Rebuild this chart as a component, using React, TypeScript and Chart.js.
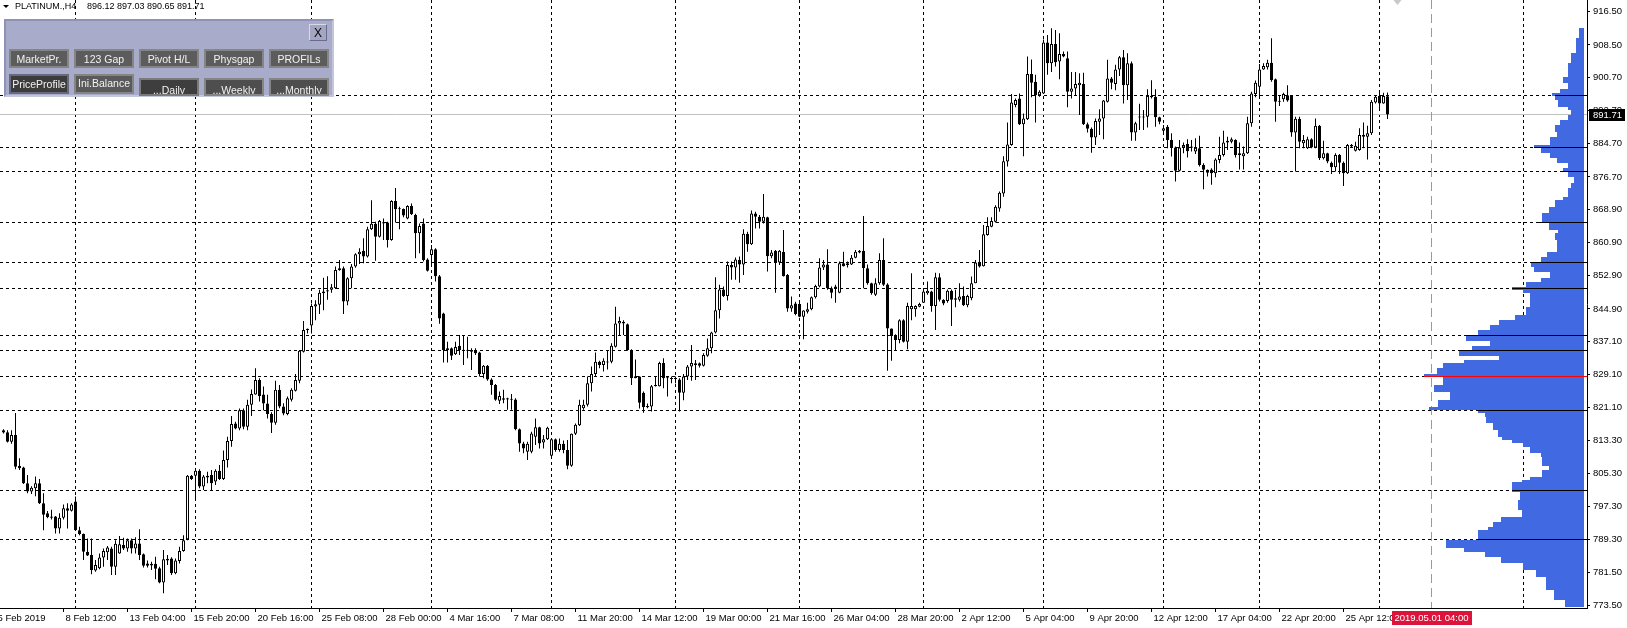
import React, { useEffect, useRef } from 'react';
import { Chart, registerables } from 'chart.js';

Chart.register(...registerables);

// ---------------- DATA ----------------
const opens = [
815.7,815.2,812.9,814.5,807.1,806.7,802.9,800.9,801.7,802.9,
798.1,795.7,794.9,794.9,792.0,794.6,796.9,796.3,798.5,791.6,
790.7,786.4,785.6,781.9,782.4,785.0,786.3,787.2,782.8,786.0,
788.0,787.2,789.2,787.2,788.4,785.8,783.6,783.5,783.5,782.4,
779.0,784.7,784.8,781.2,784.2,786.6,789.4,804.7,804.7,805.9,
802.1,804.7,804.9,803.3,805.9,803.9,808.5,813.1,817.3,816.1,
820.5,816.5,821.8,824.3,827.8,824.3,822.1,819.6,817.5,825.4,
821.4,819.6,823.0,825.2,827.6,834.6,839.8,840.9,845.5,845.9,
848.7,849.1,849.5,849.9,854.3,854.7,846.7,852.3,855.1,858.1,
858.9,857.5,864.1,865.4,862.3,865.8,865.7,861.5,870.9,869.1,
869.0,866.7,869.7,867.5,863.1,865.5,856.8,857.9,859.3,852.8,
843.8,835.0,835.4,834.0,836.0,835.0,834.8,835.0,835.0,834.4,
829.2,831.2,827.9,826.6,822.8,823.0,823.4,823.2,823.1,815.9,
812.5,810.5,810.5,814.1,816.4,812.7,813.5,809.5,813.5,810.9,
812.4,810.9,807.1,814.8,816.9,821.0,821.8,827.0,829.2,832.2,
831.4,832.2,832.2,835.8,841.4,841.4,841.2,835.0,828.2,828.6,
824.7,821.2,821.4,826.3,826.3,831.9,828.2,828.0,828.0,827.9,
824.7,828.6,831.0,831.8,831.8,831.2,833.6,835.4,839.2,844.6,
849.6,848.0,855.5,854.9,856.7,855.6,863.0,860.5,867.9,867.1,
865.9,867.0,857.6,858.9,856.1,858.6,853.1,845.0,846.2,846.1,
843.0,844.2,844.8,847.7,850.3,854.9,855.6,849.9,849.9,848.8,
855.9,855.5,855.6,857.2,858.9,858.9,854.7,851.1,848.3,851.1,
856.7,850.8,840.2,838.6,837.4,842.2,837.0,844.8,844.8,845.4,
846.4,848.7,849.1,845.6,852.5,847.1,846.8,849.3,847.1,847.1,
848.0,845.8,847.5,851.1,856.1,855.2,862.7,864.7,865.9,869.1,
872.7,880.4,884.4,894.0,895.6,889.4,890.6,901.5,899.6,896.4,
896.8,909.1,904.1,908.7,904.5,906.3,905.3,897.2,898.0,898.8,
899.1,889.4,888.3,886.2,890.0,890.8,894.8,900.4,899.1,902.6,
905.5,898.8,904.1,887.4,891.0,891.0,891.2,895.9,896.0,891.1,
887.8,888.8,885.6,883.8,878.2,883.8,884.6,884.0,882.8,883.6,
879.6,878.4,878.5,877.6,880.8,882.0,885.4,885.2,885.6,882.4,
881.7,882.4,889.6,896.7,898.4,902.6,903.1,904.2,900.2,895.0,
895.4,896.4,896.2,887.4,890.7,884.8,883.6,885.8,883.8,889.0,
881.2,882.4,880.1,879.0,882.0,880.1,877.6,884.4,883.0,883.2,
886.4,886.4,887.2,894.6,896.2,894.4,896.12
];

const highs = [
815.9,815.7,815.7,819.8,808.9,806.9,804.9,802.2,804.5,803.9,
800.5,796.2,796.5,795.0,795.7,797.8,798.1,798.1,799.7,792.4,
790.8,789.6,789.6,784.4,786.0,787.2,787.8,787.6,789.2,790.2,
789.8,789.6,789.6,789.9,791.8,786.0,784.3,784.0,785.2,782.8,
786.8,785.6,785.1,784.8,787.6,790.4,804.9,804.9,806.3,806.3,
804.9,805.7,806.1,806.3,807.3,810.8,814.1,819.1,817.7,820.9,
820.9,823.0,825.5,830.6,828.2,826.2,824.2,820.0,827.6,826.6,
822.2,823.8,825.8,829.2,835.0,842.0,840.2,846.2,847.0,849.5,
852.4,852.8,850.9,855.1,856.7,855.1,852.5,855.7,858.3,859.5,
861.9,864.7,871.1,865.9,866.3,866.7,865.9,871.1,874.0,869.5,
869.1,869.9,870.3,867.8,865.5,866.7,857.1,860.3,859.5,853.1,
844.0,837.0,835.6,837.0,838.6,838.6,838.2,835.4,835.4,834.6,
831.4,831.4,828.2,826.8,825.0,825.4,823.5,824.4,823.4,816.1,
812.9,812.9,815.3,818.5,816.5,814.5,816.5,813.7,813.7,813.7,
813.2,813.3,814.9,817.3,823.0,823.0,828.6,831.0,834.4,832.4,
833.0,835.0,836.6,845.4,843.0,842.2,841.4,835.2,832.7,828.7,
825.0,822.1,826.6,828.6,832.2,833.0,828.6,828.6,828.6,828.2,
829.2,831.4,836.2,832.6,832.0,834.2,837.8,839.4,852.5,850.7,
850.3,856.3,856.3,857.3,857.5,864.1,863.5,868.6,868.3,867.5,
872.6,867.1,859.1,859.1,859.1,863.9,853.3,847.9,846.6,846.4,
844.6,846.4,847.9,850.7,857.1,856.7,859.3,850.3,850.7,856.3,
858.7,856.3,857.9,859.1,859.1,867.3,855.6,851.2,852.3,858.3,
861.9,851.1,840.2,838.8,842.4,842.4,846.4,853.5,845.8,846.4,
849.9,851.5,849.3,853.6,853.5,847.2,849.6,849.6,849.5,851.1,
850.3,848.3,852.7,856.7,859.1,865.1,867.0,867.0,869.9,873.2,
881.7,889.8,896.7,895.6,896.8,892.0,905.7,905.0,901.3,897.6,
909.8,910.9,912.5,912.1,911.3,906.9,906.9,902.0,902.0,901.7,
901.8,889.8,888.6,890.8,893.0,895.2,904.9,900.8,903.7,905.8,
907.3,906.5,904.5,890.0,894.3,892.8,897.8,900.0,897.8,891.2,
889.2,889.2,887.2,884.0,885.6,885.0,885.8,885.6,886.0,886.6,
880.0,878.5,878.8,881.2,886.4,887.8,886.4,886.2,885.8,885.0,
884.0,891.2,897.2,899.9,903.9,904.1,904.9,910.1,900.4,896.2,
897.0,898.8,896.4,891.2,891.2,886.8,886.4,886.0,890.8,889.2,
885.4,882.5,880.4,882.4,882.2,880.4,884.6,884.6,885.2,888.4,
889.8,889.0,895.2,896.4,897.2,897.0,897.03
];

const lows = [
814.9,812.7,812.4,806.3,806.1,802.7,800.5,800.3,799.8,797.9,
791.6,794.5,794.2,790.8,790.8,794.2,792.0,796.1,791.6,790.4,
784.4,785.4,781.0,781.6,782.2,782.8,784.4,780.8,780.8,785.9,
786.8,786.4,786.0,786.0,784.4,782.6,782.6,782.0,779.8,778.8,
776.4,783.2,780.8,781.0,783.6,786.4,789.2,803.7,798.9,801.7,
801.3,802.9,801.3,802.5,803.7,803.7,806.7,811.7,815.9,815.7,
815.9,815.7,819.1,824.2,822.6,820.5,818.5,815.0,817.0,821.0,
819.3,819.3,822.6,825.0,827.0,834.4,839.0,839.0,842.2,843.7,
844.6,847.1,848.8,849.7,854.1,843.7,845.8,849.9,854.8,855.7,
855.9,857.3,863.9,856.5,862.1,861.5,859.7,861.3,865.7,864.1,
867.0,866.5,867.5,857.1,858.3,856.3,853.9,855.5,851.5,841.3,
832.0,832.0,832.6,833.8,833.8,831.4,833.0,830.2,833.8,828.6,
828.2,827.6,824.2,822.8,822.0,822.2,820.6,820.6,815.7,810.5,
810.1,808.5,810.1,812.1,811.3,811.3,813.3,809.3,810.5,810.5,
810.1,806.3,806.9,814.5,816.7,820.6,821.4,825.0,828.6,830.6,
829.8,830.3,831.8,835.6,838.6,838.6,834.8,826.6,828.2,820.9,
819.9,821.0,820.2,826.2,826.2,825.8,823.8,827.0,827.0,820.2,
822.9,827.8,827.6,827.8,830.8,831.0,833.4,834.2,839.0,842.6,
847.8,846.9,851.9,851.9,851.2,853.1,858.7,860.3,864.3,864.3,
865.5,853.9,857.1,848.8,855.5,852.7,844.2,844.2,843.4,842.9,
837.6,843.8,844.6,847.4,850.1,854.3,849.5,847.5,846.4,848.7,
855.1,854.9,855.5,857.1,858.3,849.9,850.7,848.3,848.0,850.7,
850.4,830.0,832.4,835.0,836.6,836.8,835.2,842.2,843.0,845.3,
846.3,848.3,844.2,839.8,846.7,845.8,846.4,840.8,845.3,846.7,
845.6,845.3,847.0,851.1,854.9,855.1,862.5,864.6,865.7,868.3,
871.9,879.2,884.2,893.5,889.2,881.7,890.4,895.9,889.8,896.0,
896.7,901.3,902.0,903.3,900.2,905.5,893.5,895.6,896.4,891.6,
889.2,887.4,882.5,884.4,886.8,885.8,894.6,897.8,897.6,901.0,
894.4,895.2,885.4,885.4,888.0,888.0,888.6,895.6,888.8,889.4,
886.8,883.6,881.6,875.6,878.0,882.4,881.4,882.8,882.2,879.2,
873.7,876.8,874.8,876.6,880.0,881.6,883.2,884.8,881.4,878.5,
878.5,882.2,888.8,895.9,895.9,902.5,902.6,899.6,890.0,893.8,
894.8,894.8,886.4,878.0,883.6,883.6,883.4,883.6,883.6,880.8,
880.9,880.0,877.4,878.0,877.4,874.5,877.4,883.8,882.8,883.0,
883.6,880.9,886.8,894.4,893.2,894.3,890.65
];

const closes = [
815.1,812.9,814.5,806.9,806.5,802.9,800.9,801.8,802.9,798.1,
795.3,794.7,794.6,792.0,794.6,796.9,796.3,797.8,791.6,790.7,
786.4,785.5,782.0,783.2,785.0,786.6,787.4,782.8,788.3,788.2,
787.2,789.2,787.2,788.4,785.6,783.0,783.0,783.1,782.3,779.0,
784.6,784.3,781.2,784.3,786.6,789.2,804.7,803.9,805.9,802.1,
804.5,804.3,802.9,805.9,803.9,808.5,813.1,817.2,816.1,820.5,
816.5,821.8,824.4,827.8,823.9,822.1,819.6,817.5,825.4,821.4,
819.7,823.4,825.4,827.8,834.8,839.8,840.1,845.6,846.0,848.8,
849.1,849.4,850.1,854.3,854.7,846.7,852.3,855.1,858.1,858.7,
857.5,864.1,865.4,862.3,866.1,865.5,861.5,870.9,868.9,868.9,
867.4,869.7,867.7,863.1,864.9,856.7,854.1,859.3,852.8,842.6,
835.0,835.4,833.6,835.7,835.0,834.8,835.0,834.6,834.2,829.2,
831.2,827.9,826.6,823.0,823.9,823.4,823.1,823.0,815.9,812.5,
811.3,812.4,814.9,816.4,812.5,813.5,816.3,813.5,810.9,812.4,
810.9,807.1,814.8,817.0,821.8,821.8,827.0,829.2,832.2,831.4,
832.4,832.0,836.0,841.4,842.0,841.8,835.0,828.2,828.7,822.3,
821.2,821.5,826.3,826.6,831.9,828.2,828.4,828.2,828.2,824.7,
828.6,831.0,831.9,831.4,831.2,833.8,835.4,839.2,844.6,849.6,
848.0,855.5,854.9,856.8,855.6,863.0,860.5,867.9,867.1,865.9,
867.1,857.6,858.5,856.1,858.9,852.8,845.0,845.8,843.7,843.0,
844.5,844.8,847.7,850.4,854.9,855.6,849.9,848.8,850.3,855.9,
855.2,855.9,857.2,858.7,858.5,854.7,851.1,848.7,851.1,856.7,
850.7,840.2,838.4,837.4,842.2,837.0,845.6,845.6,845.6,846.1,
849.1,849.3,845.6,852.5,847.1,846.2,849.3,847.1,847.5,847.9,
845.8,848.0,851.1,856.1,855.1,862.9,864.9,866.1,869.5,872.9,
880.5,884.5,894.6,895.2,889.4,890.8,901.5,899.4,896.4,897.2,
909.1,904.1,908.7,904.3,906.3,905.7,897.2,898.0,899.1,899.4,
889.4,888.3,886.2,890.2,890.8,895.1,900.4,899.4,902.6,905.5,
898.8,904.1,887.4,889.6,891.2,891.2,896.2,896.2,891.1,890.0,
888.4,885.6,883.8,878.2,883.8,884.4,882.9,883.7,883.7,879.6,
878.4,877.7,877.6,880.9,882.0,885.0,885.0,885.8,882.0,882.0,
882.4,889.6,896.8,899.4,902.6,903.4,904.2,900.0,894.8,894.8,
896.7,895.1,887.4,890.7,885.2,885.6,885.8,883.8,889.0,881.2,
882.4,880.4,879.0,882.0,880.1,877.6,884.4,884.0,884.2,886.8,
886.8,887.2,894.8,896.0,894.4,896.2,891.71
];

const timeLabels = [
  '5 Feb 2019', '8 Feb 12:00', '13 Feb 04:00', '15 Feb 20:00', '20 Feb 16:00', '25 Feb 08:00',
  '28 Feb 00:00', '4 Mar 16:00', '7 Mar 08:00', '11 Mar 20:00', '14 Mar 12:00', '19 Mar 00:00',
  '21 Mar 16:00', '26 Mar 04:00', '28 Mar 20:00', '2 Apr 12:00', '5 Apr 04:00', '9 Apr 20:00',
  '12 Apr 12:00', '17 Apr 04:00', '22 Apr 20:00', '25 Apr 12:00'
];
const timeLabelBars = [-2, 15, 31, 47, 63, 79, 95, 111, 127, 143, 159, 175, 191, 207, 223, 239, 255, 271, 287, 303, 319, 335];
const weekGridBars = [18, 48, 77, 107, 137, 168, 199, 230, 260, 290, 314, 344, 380];

const priceTicks = [916.5, 908.5, 900.7, 892.7, 884.7, 876.7, 868.9, 860.9, 852.9, 844.9, 837.1, 829.1, 821.1, 813.3, 805.3, 797.3, 789.3, 781.5, 773.5];

const levelPrices = [896.3, 883.85, 878.05, 865.77, 856.13, 849.77, 838.6, 834.9, 820.5, 801.2, 789.4];
const pocPrice = 828.7;
const bidPrice = 891.71;
const headerSymbol = 'PLATINUM.,H4';
const headerOHLC = [896.12, 897.03, 890.65, 891.71];
const markerBar = 357;
const markerLabel = '2019.05.01 04:00';
const shiftBar = 348.5;

const profileTop = [912.65, 910.1, 906.5, 904.1, 900.8, 899.25, 897.8, 896.85, 896.3, 895.2, 893.6, 892.8, 891.6, 890.4, 889.2, 887.6, 886.4, 884.4, 883.6, 882.4, 881.2, 880.0, 878.8, 878.0, 876.75, 875.15, 873.95, 871.9, 871.1, 869.5, 867.9, 865.9, 865.5, 863.9, 863.1, 861.5, 858.7, 857.5, 856.3, 855.1, 853.9, 852.3, 851.5, 850.25, 849.5, 848.7, 847.0, 845.4, 843.4, 842.2, 841.0, 839.8, 838.6, 837.2, 836.0, 835.0, 833.6, 832.6, 831.9, 830.7, 829.2, 828.5, 826.6, 824.9, 822.95, 821.3, 820.55, 819.8, 818.85, 817.4, 815.7, 814.0, 813.3, 812.6, 811.6, 810.2, 809.2, 807.05, 806.1, 804.4, 803.7, 803.2, 800.8, 798.9, 796.5, 794.8, 793.6, 792.4, 791.65, 789.2, 787.3, 786.3, 785.1, 783.7, 782.0, 780.3, 777.2, 774.8];
const profileVolume = [3, 5, 8, 10, 13, 10, 15, 20, 18, 16, 10, 8, 10, 15, 18, 17, 21, 31, 27, 21, 17, 10, 13, 10, 6, 8, 10, 13, 18, 22, 26, 28, 22, 16, 18, 17, 23, 27, 33, 31, 21, 27, 36, 45, 38, 34, 34, 36, 43, 53, 59, 66, 74, 59, 70, 78, 53, 75, 88, 92, 100, 88, 94, 84, 91, 97, 66, 62, 61, 57, 54, 51, 45, 38, 34, 27, 26, 22, 26, 34, 39, 45, 40, 41, 39, 52, 57, 60, 66, 86, 75, 62, 52, 38, 30, 24, 19, 12];
const profileBottom = 773.1;

// ---------------- CHART ----------------
const FONT = '"Liberation Sans", Arial, sans-serif';

function profileVolAt(price: number): number {
  for (let k = 0; k < profileTop.length; k++) {
    const bottom = k + 1 < profileTop.length ? profileTop[k + 1] : profileBottom;
    if (price <= profileTop[k] && price > bottom) return profileVolume[k];
  }
  return 0;
}

const mt4Plugin = {
  id: 'mt4',
  beforeDatasetsDraw(chart: any) {
    const { ctx, chartArea: a } = chart;
    const xs = chart.scales.x;
    const ys = chart.scales.y;
    ctx.save();
    ctx.beginPath();
    ctx.rect(a.left, a.top, a.right - a.left, a.bottom - a.top);
    ctx.clip();
    ctx.lineWidth = 1;
    ctx.strokeStyle = '#000';
    ctx.setLineDash([3, 3]);
    weekGridBars.forEach((b) => {
      const px = Math.floor(xs.getPixelForValue(b)) + 0.5;
      ctx.beginPath();
      ctx.moveTo(px, a.top);
      ctx.lineTo(px, a.bottom);
      ctx.stroke();
    });
    [...levelPrices, pocPrice].forEach((p) => {
      const py = Math.floor(ys.getPixelForValue(p)) + 0.5;
      ctx.beginPath();
      ctx.moveTo(a.left, py);
      ctx.lineTo(a.right, py);
      ctx.stroke();
    });
    ctx.setLineDash([]);
    ctx.strokeStyle = '#C0C0C0';
    const by = Math.floor(ys.getPixelForValue(bidPrice)) + 0.5;
    ctx.beginPath();
    ctx.moveTo(a.left, by);
    ctx.lineTo(a.right, by);
    ctx.stroke();
    ctx.strokeStyle = '#9A9A9A';
    ctx.setLineDash([9, 5]);
    const mx = Math.floor(xs.getPixelForValue(markerBar)) + 0.5;
    ctx.beginPath();
    ctx.moveTo(mx, a.top);
    ctx.lineTo(mx, a.bottom);
    ctx.stroke();
    // chart shift marker
    const sx = xs.getPixelForValue(shiftBar);
    ctx.fillStyle = '#C8C8C8';
    ctx.beginPath();
    ctx.moveTo(sx - 4, a.top);
    ctx.lineTo(sx + 4, a.top);
    ctx.lineTo(sx, a.top + 5);
    ctx.closePath();
    ctx.fill();
    ctx.restore();
  },
  afterDatasetsDraw(chart: any) {
    const { ctx, chartArea: a } = chart;
    const ys = chart.scales.y;
    const xv = chart.scales.xv;
    ctx.save();
    ctx.beginPath();
    ctx.rect(a.left, a.top, a.right - a.left, a.bottom - a.top);
    ctx.clip();
    ctx.fillStyle = '#4169E1';
    const xR = Math.round(xv.getPixelForValue(0));
    for (let k = 0; k < profileTop.length; k++) {
      const bottom = k + 1 < profileTop.length ? profileTop[k + 1] : profileBottom;
      const y1 = Math.round(ys.getPixelForValue(profileTop[k]));
      const y2 = Math.round(ys.getPixelForValue(bottom));
      const xL = Math.round(xv.getPixelForValue(profileVolume[k]));
      ctx.fillRect(xL, y1, xR - xL, y2 - y1);
    }
    ctx.lineWidth = 1;
    ctx.setLineDash([]);
    levelPrices.forEach((p) => {
      const py = Math.floor(ys.getPixelForValue(p)) + 0.5;
      const xL = Math.round(xv.getPixelForValue(profileVolAt(p)));
      ctx.strokeStyle = '#000';
      ctx.beginPath();
      ctx.moveTo(xL, py);
      ctx.lineTo(a.right, py);
      ctx.stroke();
    });
    const pp = Math.floor(ys.getPixelForValue(pocPrice)) + 0.5;
    const pl = Math.round(xv.getPixelForValue(profileVolAt(pocPrice)));
    ctx.strokeStyle = '#FF0000';
    ctx.beginPath();
    ctx.moveTo(pl, pp);
    ctx.lineTo(a.right, pp);
    ctx.stroke();
    ctx.restore();
  },
  afterDraw(chart: any) {
    const { ctx, chartArea: a } = chart;
    const xs = chart.scales.x;
    const ys = chart.scales.y;
    ctx.save();
    ctx.font = `9.5px ${FONT}`;
    ctx.textBaseline = 'middle';
    const by = ys.getPixelForValue(bidPrice);
    ctx.fillStyle = '#000';
    ctx.fillRect(a.right + 2, Math.round(by) - 6, 36, 12);
    ctx.fillStyle = '#fff';
    ctx.textAlign = 'left';
    ctx.fillText(bidPrice.toFixed(2), a.right + 6, Math.round(by));
    const mx = xs.getPixelForValue(markerBar);
    const tw = ctx.measureText(markerLabel).width + 6;
    ctx.fillStyle = '#DC143C';
    ctx.fillRect(Math.round(mx - tw / 2), a.bottom + 3, Math.round(tw), 14);
    ctx.fillStyle = '#fff';
    ctx.textAlign = 'center';
    ctx.fillText(markerLabel, mx, a.bottom + 10.5);
    ctx.restore();
  }
};

export default function App() {
  const ref = useRef<HTMLCanvasElement>(null);

  useEffect(() => {
    document.body.style.margin = '0';
    const canvas = ref.current;
    if (!canvas) return;
    const bodyData = opens.map((o, i) => ({ x: i, y: [o, closes[i]] }));
    const wickData = lows.map((l, i) => ({ x: i, y: [l, highs[i]] }));
    const bodyColors = opens.map((o, i) => (closes[i] >= o ? '#FFFFFF' : '#000000'));

    const chart = new Chart(canvas, {
      type: 'bar',
      data: {
        datasets: [
          {
            label: 'body',
            data: bodyData as any,
            backgroundColor: bodyColors,
            borderColor: '#000',
            borderWidth: 1,
            borderSkipped: false,
            barThickness: 3,
            grouped: false,
            minBarLength: 1,
            inflateAmount: 0,
            order: 0
          } as any,
          {
            label: 'wick',
            data: wickData as any,
            backgroundColor: '#000',
            borderWidth: 0,
            barThickness: 1,
            grouped: false,
            inflateAmount: 0,
            order: 1
          } as any
        ]
      },
      options: {
        responsive: false,
        maintainAspectRatio: false,
        devicePixelRatio: 1,
        animation: false,
        events: [],
        layout: { padding: 0 },
        plugins: { legend: { display: false }, tooltip: { enabled: false } },
        scales: {
          x: {
            type: 'linear',
            position: 'bottom',
            min: -0.875,
            max: 395.875,
            offset: false,
            grid: { display: true, offset: false, drawOnChartArea: false, drawTicks: true, tickLength: 4, color: '#000' },
            border: { display: true, color: '#000', width: 1 },
            ticks: {
              autoSkip: false,
              maxRotation: 0,
              minRotation: 0,
              align: 'start',
              labelOffset: 2,
              padding: 1,
              color: '#000',
              font: { family: FONT, size: 9.5 },
              callback: (_v: any, i: number) => timeLabels[i] ?? ''
            },
            afterBuildTicks: (s: any) => {
              s.ticks = timeLabelBars.map((v) => ({ value: v }));
            },
            afterFit: (s: any) => {
              s.height = 20;
              s.paddingLeft = 0;
              s.paddingRight = 0;
            }
          } as any,
          xv: {
            type: 'linear',
            axis: 'x',
            position: 'top',
            display: true,
            reverse: true,
            offset: false,
            min: -1.9,
            max: 990,
            grid: { display: false, drawTicks: false, drawOnChartArea: false },
            border: { display: false },
            ticks: { display: false },
            afterFit: (s: any) => {
              s.height = 0;
              s.paddingLeft = 0;
              s.paddingRight = 0;
            }
          } as any,
          y: {
            type: 'linear',
            position: 'right',
            min: 772.85,
            max: 919.32,
            beginAtZero: false,
            grid: { display: true, drawOnChartArea: false, drawTicks: true, tickLength: 3, color: '#000' },
            border: { display: true, color: '#000', width: 1 },
            ticks: {
              padding: 3,
              color: '#000',
              font: { family: FONT, size: 9.5 },
              callback: (v: any) => Number(v).toFixed(2)
            },
            afterBuildTicks: (s: any) => {
              s.ticks = priceTicks.map((v) => ({ value: v }));
            },
            afterFit: (s: any) => {
              s.width = 40;
              s.paddingTop = 0;
              s.paddingBottom = 0;
            }
          } as any
        }
      },
      plugins: [mt4Plugin]
    });
    return () => chart.destroy();
  }, []);

  const btnBase: React.CSSProperties = {
    position: 'absolute',
    boxSizing: 'border-box',
    color: '#F2F2F2',
    font: `10.5px ${FONT}`,
    display: 'flex',
    justifyContent: 'center',
    alignItems: 'center',
    overflow: 'hidden',
    whiteSpace: 'nowrap'
  };
  const row1 = ['MarketPr.', '123 Gap', 'Pivot H/L', 'Physgap', 'PROFILs'];
  const row2 = ['...Daily', '...Weekly', '...Monthly'];

  return (
    <div style={{ position: 'relative', width: 1627, height: 628, overflow: 'hidden', background: '#fff' }}>
      <canvas ref={ref} width={1627} height={628} style={{ position: 'absolute', left: 0, top: 0, width: 1627, height: 628 }} />
      <div style={{ position: 'absolute', left: 3, top: 5, width: 0, height: 0, borderLeft: '3px solid transparent', borderRight: '3px solid transparent', borderTop: '3px solid #000' }} />
      <div style={{ position: 'absolute', left: 15, top: 1, font: `9px ${FONT}`, lineHeight: '11px', color: '#000', whiteSpace: 'pre' }}>{headerSymbol}</div>
      <div style={{ position: 'absolute', left: 87, top: 1, font: `9px ${FONT}`, lineHeight: '11px', color: '#000', whiteSpace: 'pre' }}>{headerOHLC.map((v) => v.toFixed(2)).join(' ')}</div>
      <div style={{ position: 'absolute', left: 4, top: 19, width: 330, height: 78, boxSizing: 'border-box', background: '#A9ABCB', borderTop: '2px solid #8F92B7', borderLeft: '2px solid #8F92B7', borderRight: '2px solid #C3C5DC', borderBottom: '2px solid #C3C5DC' }} />
      <div style={{ position: 'absolute', left: 309, top: 24, width: 18, height: 17, boxSizing: 'border-box', background: '#A3A5C2', border: '1px solid', borderColor: '#D9DAE8 #6A6C8E #6A6C8E #D9DAE8', font: `12px ${FONT}`, color: '#000', display: 'flex', alignItems: 'center', justifyContent: 'center' }}>X</div>
      {row1.map((t, k) => (
        <div key={t} style={{ ...btnBase, left: 9 + k * 65, top: 49, width: 60, height: 19, background: '#5C5C5C', border: '2px solid #858585' }}>{t}</div>
      ))}
      <div style={{ ...btnBase, left: 9, top: 74, width: 60, height: 20, background: '#3C3C3C', border: '2px solid #67697F' }}>PriceProfile</div>
      <div style={{ ...btnBase, left: 74, top: 74, width: 60, height: 20, background: '#5A5A5A', border: '2px solid #858585', alignItems: 'flex-start', paddingTop: 1 }}>Ini.Balance</div>
      {row2.map((t, k) => (
        <div key={t} style={{ ...btnBase, left: 139 + k * 65, top: 78, width: 60, height: 18, background: k === 0 ? '#3E3E3E' : '#4E4E4E', border: `2px solid ${k === 0 ? '#7A7A7A' : '#858585'}`, alignItems: 'flex-start', paddingTop: 4 }}>{t}</div>
      ))}
    </div>
  );
}
